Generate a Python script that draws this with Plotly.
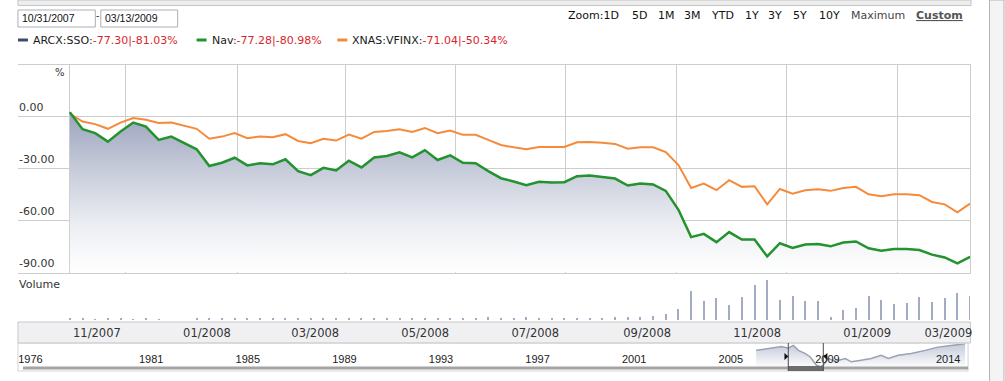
import plotly.graph_objects as go
import pandas as pd

W, H = 1005, 381

# ---------------- data ----------------
start_date = "2007-10-31"
end_date = "2009-03-13"
n_points = 72

nav = [2.5, -7.3, -9.6, -14.5, -8.7, -3.5, -5.8, -13.5, -11.6, -15.4,
       -18.9, -28.6, -26.7, -23.8, -28.2, -27.0, -27.6, -24.7, -31.5, -33.8,
       -29.6, -31.1, -25.5, -29.4, -23.6, -22.8, -20.7, -23.6, -19.4, -25.1,
       -22.4, -26.7, -27.0, -31.5, -35.6, -37.5, -39.6, -37.7, -38.1, -37.9,
       -34.4, -34.0, -34.8, -35.8, -39.8, -38.7, -39.2, -42.9, -53.8, -69.6,
       -67.7, -72.5, -66.7, -71.0, -71.0, -80.7, -73.1, -75.8, -73.9, -73.5,
       -74.9, -72.7, -72.1, -76.0, -77.4, -76.4, -76.4, -77.0, -79.7, -81.3,
       -84.7, -81.0]

sso = [2.5, -7.3, -9.6, -14.5, -8.7, -3.5, -5.8, -13.5, -11.6, -15.4,
       -18.9, -28.6, -26.7, -23.8, -28.2, -27.0, -27.6, -24.7, -31.5, -33.8,
       -29.6, -31.1, -25.5, -29.4, -23.6, -22.8, -20.7, -23.6, -19.4, -25.1,
       -22.4, -26.7, -27.0, -31.5, -35.6, -37.5, -39.6, -37.7, -38.1, -37.9,
       -34.4, -34.0, -34.8, -35.8, -39.8, -38.7, -39.2, -42.9, -53.8, -69.6,
       -67.7, -72.5, -66.7, -71.0, -71.0, -80.7, -73.1, -75.8, -73.9, -73.5,
       -74.9, -72.7, -72.1, -76.0, -77.4, -76.4, -76.4, -77.0, -79.7, -81.3,
       -84.7, -81.0]

vfinx = [1.6, -2.9, -4.4, -7.1, -3.5, -0.9, -1.9, -3.8, -3.5, -5.4,
         -7.1, -12.8, -11.6, -9.6, -12.5, -11.6, -12.0, -10.2, -14.1, -15.4,
         -12.8, -13.9, -10.4, -12.8, -8.9, -8.3, -7.3, -8.9, -6.6, -9.6,
         -8.1, -10.6, -10.6, -13.5, -16.4, -17.8, -18.9, -17.6, -17.6, -17.6,
         -14.9, -14.7, -15.1, -15.8, -18.6, -17.8, -17.8, -20.5, -28.0, -41.2,
         -38.7, -42.5, -36.7, -40.6, -40.2, -50.7, -41.8, -44.5, -42.5, -42.0,
         -42.9, -41.2, -40.6, -44.9, -46.0, -44.9, -44.9, -45.4, -49.3, -50.7,
         -55.3, -50.3]

volume = [2, 2, 1.5, 2, 2, 1.5, 2, 1.5, 0.5, 0.5,
          2, 2.5, 2, 2, 2.5, 2, 2, 2.5, 2, 2,
          2.5, 2, 2, 2.5, 2, 2, 2, 2, 2, 2,
          2.5, 2, 2, 3.5, 2, 2, 3.5, 2, 2, 2,
          2, 2, 2.5, 3, 3, 3.5, 4, 6, 11, 29,
          19, 22, 15, 23, 35, 40, 20, 24, 19, 19,
          3, 10, 12, 24, 20, 16, 17, 23, 18, 22,
          27, 24]

y_ticks = [0, -30, -60, -90]
y_tick_labels = ["0.00", "-30.00", "-60.00", "-90.00"]
grid_dates = ["2007-10-31", "2007-12-01", "2008-02-01", "2008-04-01", "2008-06-01",
              "2008-08-01", "2008-10-01", "2008-12-01", "2009-02-01"]
month_label_dates = ["2007-11-15", "2008-01-15", "2008-03-15", "2008-05-15", "2008-07-15",
                     "2008-09-15", "2008-11-15", "2009-01-15", "2009-03-01"]
month_labels = ["11/2007", "01/2008", "03/2008", "05/2008", "07/2008",
                "09/2008", "11/2008", "01/2009", "03/2009"]

nav_years = [1976, 1981, 1985, 1989, 1993, 1997, 2001, 2005, 2009, 2014]
hist_x = [2006.05, 2006.43, 2006.84, 2007.10, 2007.38, 2007.59, 2007.80, 2008.09, 2008.29,
          2008.42, 2008.54, 2008.71, 2008.83, 2009.04, 2009.33, 2009.74, 2009.99, 2010.40,
          2010.81, 2011.23, 2011.52, 2011.93, 2012.47, 2013.05, 2013.58, 2014.12, 2014.70]
hist_y = [18, 19.7, 21.3, 22, 20.3, 23, 18, 14.7, 11.3,
          6.3, 3, 1.3, 3, 9.7, 7, 9.7, 6.3, 8,
          9.7, 13, 9.7, 13, 14.7, 18, 21.3, 23, 24.7]
nav_window = [2007.38, 2008.83]

legend_items = [("ARCX:SSO:", "-77.30|-81.03%", "#3c4b6e", 18, 32),
                ("Nav:", "-77.28|-80.98%", "#23922f", 197, 211),
                ("XNAS:VFINX:", "-71.04|-50.34%", "#f58a3a", 338, 352)]
zoom_items = [("Zoom:1D", 568), ("5D", 632), ("1M", 658), ("3M", 684), ("YTD", 711),
              ("1Y", 745), ("3Y", 769), ("5Y", 794), ("10Y", 820), ("Maximum", 852),
              ("Custom", 917)]

# ---------------- helpers ----------------
def px(x):
    return x / W


def py(y):
    return 1 - y / H


dates = pd.date_range(start_date, end_date, periods=n_points)
px_per_day = (972 - 70) / (pd.Timestamp(end_date) - pd.Timestamp(start_date)).days
x_left = pd.Timestamp(start_date) - pd.Timedelta(days=(70 - 18) / px_per_day)

nav_px0, nav_scale = 490.3, 24.2   # navigator: pixel of 1995, px per year
nav_r0 = 1995 + (18 - nav_px0) / nav_scale
nav_r1 = 1995 + (972 - nav_px0) / nav_scale

FONT = "DejaVu Sans"
ARIAL = "Liberation Sans"
GRID = "#cdcdcd"

fig = go.Figure()

# fill floor + SSO area
fig.add_trace(go.Scatter(x=dates, y=[y_ticks[-1]] * n_points, mode="lines",
                         line=dict(width=0, color="rgba(0,0,0,0)"), hoverinfo="skip",
                         xaxis="x", yaxis="y"))
fig.add_trace(go.Scatter(x=dates, y=sso, mode="lines", fill="tonexty",
                         line=dict(width=1, color="#3c4b6e"),
                         fillgradient=dict(type="vertical", start=-90, stop=2.5,
                                           colorscale=[[0, "#ffffff"], [0.3, "#eceef3"],
                                                       [0.65, "#c6cbda"], [1, "#9ba3bd"]]),
                         xaxis="x", yaxis="y", name="ARCX:SSO"))
fig.add_trace(go.Scatter(x=dates, y=vfinx, mode="lines",
                         line=dict(width=2, color="#f58a3a"),
                         xaxis="x", yaxis="y", name="XNAS:VFINX"))
fig.add_trace(go.Scatter(x=dates, y=nav, mode="lines",
                         line=dict(width=2.5, color="#23922f"),
                         xaxis="x", yaxis="y", name="Nav"))

# volume
fig.add_trace(go.Bar(x=dates, y=volume, width=1.1 * 86400000,
                     marker=dict(color="#a3abc3", line=dict(width=0)),
                     xaxis="x2", yaxis="y2", name="Volume"))

# navigator history
fig.add_trace(go.Scatter(x=hist_x, y=hist_y, mode="lines", fill="tozeroy",
                         line=dict(width=1.5, color="#9aa1b3"),
                         fillgradient=dict(type="vertical", start=0, stop=25,
                                           colorscale=[[0, "#ffffff"], [1, "#c3c9da"]]),
                         xaxis="x3", yaxis="y3"))

dom_x = [px(18), px(972)]

shapes = []
# top gray bar
shapes.append(dict(type="rect", xref="paper", yref="paper", x0=px(18), x1=px(973),
                   y0=py(0), y1=py(5.5), fillcolor="#eeeeee", line=dict(color="#c4c4c4", width=1)))
# right panel
shapes.append(dict(type="rect", xref="paper", yref="paper", x0=px(991.5), x1=px(1006),
                   y0=py(0), y1=py(382), fillcolor="#f4f4f4", line=dict(color="#b4b4b4", width=1)))
# date input boxes
for x0, x1 in [(18, 95.5), (101, 178)]:
    shapes.append(dict(type="rect", xref="paper", yref="paper", x0=px(x0), x1=px(x1),
                       y0=py(10), y1=py(27), fillcolor="#ffffff",
                       line=dict(color="#a9b0b8", width=1)))
# legend dashes
for _, _, col, x0, _ in legend_items:
    shapes.append(dict(type="line", xref="paper", yref="paper", x0=px(x0), x1=px(x0 + 10),
                       y0=py(40), y1=py(40), line=dict(color=col, width=3)))
# date strip
shapes.append(dict(type="rect", xref="paper", yref="paper", x0=px(18), x1=px(972.5),
                   y0=py(322), y1=py(343), fillcolor="#f0f0f3", line=dict(color="#c8c8c8", width=1),
                   layer="below"))
# navigator frame
shapes.append(dict(type="rect", xref="paper", yref="paper", x0=px(18), x1=px(970),
                   y0=py(343), y1=py(371), fillcolor="rgba(0,0,0,0)",
                   line=dict(color="#d4d4d4", width=1)))
# scrollbar
shapes.append(dict(type="rect", xref="paper", yref="paper", x0=px(23), x1=px(970),
                   y0=py(366.5), y1=py(369.5), fillcolor="#a4a4a4", line=dict(width=0)))
# window
shapes.append(dict(type="rect", xref="x3", yref="paper", x0=nav_window[0], x1=nav_window[1],
                   y0=py(366), y1=py(371), fillcolor="#6c6c6c", line=dict(width=0)))
for wx in nav_window:
    shapes.append(dict(type="line", xref="x3", yref="paper", x0=wx, x1=wx,
                       y0=py(343), y1=py(371), line=dict(color="#4a4a4a", width=1)))
shapes.append(dict(type="path", xref="paper", yref="paper",
                   path=f"M {px(786)} {py(353)} L {px(790)} {py(356.5)} L {px(786)} {py(360)} Z",
                   fillcolor="#111111", line=dict(width=0)))
shapes.append(dict(type="path", xref="paper", yref="paper",
                   path=f"M {px(829)} {py(353)} L {px(825)} {py(356.5)} L {px(829)} {py(360)} Z",
                   fillcolor="#111111", line=dict(width=0)))

annotations = []
# date inputs
annotations.append(dict(text="10/31/2007", x=px(20), y=py(18.5), xref="paper", yref="paper",
                        xanchor="left", yanchor="middle", showarrow=False,
                        font=dict(family=ARIAL, size=10.5, color="#111111")))
annotations.append(dict(text="03/13/2009", x=px(103), y=py(18.5), xref="paper", yref="paper",
                        xanchor="left", yanchor="middle", showarrow=False,
                        font=dict(family=ARIAL, size=10.5, color="#111111")))
annotations.append(dict(text="-", x=px(98), y=py(15), xref="paper", yref="paper",
                        xanchor="center", yanchor="middle", showarrow=False,
                        font=dict(family=ARIAL, size=10, color="#333333")))
# zoom bar
for label, x0 in zoom_items:
    if label == "Custom":
        txt, col = "<b><u>Custom</u></b>", "#555555"
    elif label == "Maximum":
        txt, col = label, "#444444"
    else:
        txt, col = label, "#111111"
    annotations.append(dict(text=txt, x=px(x0 - 1), y=py(15.5), xref="paper", yref="paper",
                            xanchor="left", yanchor="middle", showarrow=False,
                            font=dict(family=FONT, size=11, color=col)))
# legend
for name, val, _, _, tx in legend_items:
    annotations.append(dict(text=f"{name}<span style='color:#d8262c'>{val}</span>",
                            x=px(tx - 1), y=py(40), xref="paper", yref="paper",
                            xanchor="left", yanchor="middle", showarrow=False,
                            font=dict(family=FONT, size=11, color="#1a1a1a")))
# y labels
for v, lab in zip(y_ticks, y_tick_labels):
    annotations.append(dict(text=lab, x=px(17), y=v, xref="paper", yref="y",
                            xanchor="left", yanchor="bottom", yshift=1, showarrow=False,
                            font=dict(family=FONT, size=11, color="#333333")))
annotations.append(dict(text="%", x=px(60), y=py(73), xref="paper", yref="paper",
                        xanchor="center", yanchor="middle", showarrow=False,
                        font=dict(family=FONT, size=10, color="#333333")))
annotations.append(dict(text="Volume", x=px(17), y=py(284), xref="paper", yref="paper",
                        xanchor="left", yanchor="middle", showarrow=False,
                        font=dict(family=FONT, size=11, color="#333333")))

fig.update_layout(
    width=W, height=H, margin=dict(l=0, r=0, t=0, b=0),
    paper_bgcolor="#ffffff", plot_bgcolor="rgba(0,0,0,0)",
    showlegend=False, bargap=0, hovermode=False,
    shapes=shapes, annotations=annotations,
    xaxis=dict(domain=dom_x, anchor="y", type="date", range=[x_left, pd.Timestamp(end_date)],
               tickvals=grid_dates, showticklabels=False, showgrid=True, gridcolor=GRID,
               gridwidth=1, showline=True, mirror=True, linecolor=GRID, zeroline=False,
               ticks="", fixedrange=True),
    yaxis=dict(domain=[py(272.5), py(64.5)], anchor="x", range=[-90, 30],
               tickvals=[-90, -60, -30, 0, 30], showticklabels=False, showgrid=True,
               gridcolor=GRID, zeroline=False, showline=True, side="right", linecolor=GRID,
               ticks=""),
    xaxis2=dict(domain=dom_x, anchor="y2", matches="x", type="date",
                tickvals=month_label_dates, ticktext=month_labels, showgrid=False,
                zeroline=False, showline=False, ticks="", ticklabelstandoff=4,
                tickfont=dict(family=FONT, size=11.5, color="#333333")),
    yaxis2=dict(domain=[py(320), py(280)], anchor="x2", range=[0, 40], visible=False),
    xaxis3=dict(domain=[px(18), px(970)], anchor="y3", range=[nav_r0, nav_r1 - 0.08],
                tickvals=nav_years, ticktext=[str(y) for y in nav_years],
                ticklabelposition="inside", showgrid=False, zeroline=False, showline=False,
                ticks="", tickfont=dict(family=ARIAL, size=11, color="#222222")),
    yaxis3=dict(domain=[py(368), py(343.5)], anchor="x3", range=[0, 25], visible=False),
)

fig.write_html("out.html", config={"displayModeBar": False, "staticPlot": True},
               post_script="document.body.style.margin='0';document.body.style.overflow='hidden';")
